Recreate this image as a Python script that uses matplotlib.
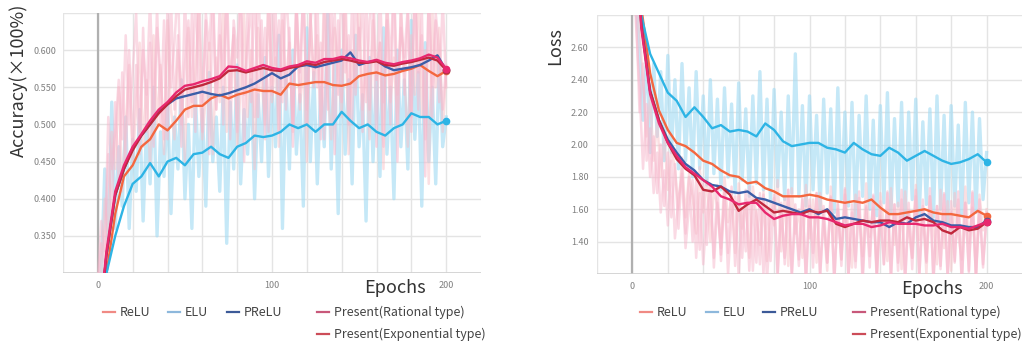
#!/usr/bin/env python3
"""Accuracy and loss curves of five activation functions (TensorBoard style)"""

import numpy as np
import matplotlib.pyplot as plt
from matplotlib.lines import Line2D

plt.rcParams["font.family"] = ["Noto Sans CJK JP", "DejaVu Sans"]

labels = ["ReLU", "ELU", "PReLU", "Present(Rational type)", "Present(Exponential type)"]
colors = ["#f4673f", "#2db4e5", "#3b5ea8", "#e8286e", "#c0283c"]
legend_colors = ["#f08a84", "#8db8dc", "#3c5a98", "#c8587a", "#cc4c58"]

# smoothed values, every 5 epochs (0..200)
acc_relu = [0.20, 0.30, 0.38, 0.43, 0.445, 0.47, 0.48, 0.50, 0.492, 0.505, 0.52,
            0.525, 0.525, 0.535, 0.54, 0.535, 0.54, 0.543, 0.547, 0.545, 0.545,
            0.54, 0.555, 0.553, 0.555, 0.557, 0.557, 0.553, 0.552, 0.555, 0.565,
            0.568, 0.57, 0.566, 0.568, 0.572, 0.575, 0.58, 0.572, 0.565, 0.572]
acc_elu = [0.21, 0.30, 0.35, 0.39, 0.42, 0.43, 0.448, 0.43, 0.45, 0.455, 0.445,
           0.46, 0.462, 0.47, 0.46, 0.455, 0.47, 0.475, 0.485, 0.483, 0.485,
           0.49, 0.50, 0.495, 0.50, 0.49, 0.50, 0.50, 0.517, 0.505, 0.495,
           0.50, 0.49, 0.485, 0.495, 0.50, 0.515, 0.51, 0.51, 0.50, 0.505]
acc_prelu = [0.21, 0.325, 0.405, 0.44, 0.468, 0.485, 0.50, 0.517, 0.527, 0.535, 0.538,
             0.541, 0.544, 0.541, 0.539, 0.542, 0.546, 0.55, 0.555, 0.562, 0.569,
             0.562, 0.567, 0.578, 0.58, 0.577, 0.58, 0.583, 0.586, 0.597, 0.58,
             0.584, 0.586, 0.578, 0.573, 0.575, 0.577, 0.58, 0.586, 0.593, 0.573]
acc_rational = [0.22, 0.33, 0.41, 0.445, 0.47, 0.487, 0.505, 0.52, 0.53, 0.543, 0.552,
                0.554, 0.558, 0.561, 0.565, 0.578, 0.577, 0.572, 0.576, 0.58, 0.576,
                0.574, 0.578, 0.58, 0.585, 0.583, 0.588, 0.588, 0.591, 0.589, 0.586,
                0.584, 0.587, 0.583, 0.581, 0.584, 0.586, 0.589, 0.594, 0.59, 0.575]
acc_exponential = [0.22, 0.325, 0.405, 0.44, 0.465, 0.485, 0.50, 0.515, 0.527, 0.538, 0.547,
                   0.55, 0.553, 0.557, 0.562, 0.572, 0.573, 0.57, 0.573, 0.576, 0.573,
                   0.572, 0.576, 0.578, 0.582, 0.58, 0.584, 0.586, 0.588, 0.586, 0.583,
                   0.583, 0.585, 0.58, 0.579, 0.582, 0.584, 0.587, 0.59, 0.586, 0.573]

loss_relu = [3.60, 2.85, 2.44, 2.21, 2.09, 2.01, 1.99, 1.95, 1.90, 1.88, 1.84,
             1.81, 1.80, 1.76, 1.77, 1.73, 1.71, 1.68, 1.68, 1.68, 1.69,
             1.68, 1.66, 1.65, 1.64, 1.65, 1.64, 1.66, 1.61, 1.57, 1.57,
             1.58, 1.59, 1.60, 1.58, 1.57, 1.57, 1.56, 1.55, 1.59, 1.56]
loss_elu = [3.60, 2.80, 2.56, 2.44, 2.32, 2.27, 2.17, 2.23, 2.17, 2.10, 2.12,
            2.08, 2.09, 2.08, 2.05, 2.13, 2.09, 2.02, 1.99, 2.00, 2.01,
            2.01, 1.98, 1.97, 1.95, 2.01, 1.97, 1.94, 1.93, 1.98, 1.95,
            1.90, 1.93, 1.96, 1.93, 1.90, 1.88, 1.89, 1.91, 1.94, 1.89]
loss_prelu = [3.60, 2.75, 2.33, 2.15, 2.03, 1.95, 1.88, 1.84, 1.78, 1.75, 1.74,
              1.71, 1.70, 1.71, 1.67, 1.66, 1.64, 1.62, 1.60, 1.58, 1.60,
              1.57, 1.60, 1.54, 1.55, 1.54, 1.53, 1.52, 1.52, 1.49, 1.52,
              1.51, 1.55, 1.57, 1.53, 1.52, 1.50, 1.50, 1.49, 1.49, 1.53]
loss_rational = [3.60, 2.72, 2.31, 2.13, 2.01, 1.93, 1.86, 1.82, 1.78, 1.74, 1.68,
                 1.66, 1.63, 1.64, 1.64, 1.58, 1.54, 1.56, 1.57, 1.57, 1.55,
                 1.55, 1.54, 1.52, 1.50, 1.51, 1.51, 1.49, 1.50, 1.52, 1.51,
                 1.51, 1.51, 1.50, 1.50, 1.51, 1.49, 1.49, 1.48, 1.50, 1.52]
loss_exponential = [3.60, 2.74, 2.33, 2.15, 2.01, 1.91, 1.85, 1.81, 1.72, 1.71, 1.74,
                    1.69, 1.59, 1.63, 1.66, 1.62, 1.58, 1.59, 1.58, 1.57, 1.59,
                    1.58, 1.59, 1.51, 1.49, 1.51, 1.53, 1.52, 1.53, 1.53, 1.52,
                    1.55, 1.53, 1.54, 1.52, 1.47, 1.45, 1.49, 1.47, 1.48, 1.52]

# raw (unsmoothed) values, every 2 epochs (0..200)
acc_raw_rational = [
    0.28, 0.34, 0.31, 0.46, 0.38, 0.53, 0.42, 0.57, 0.45, 0.60, 0.47, 0.58, 0.46, 0.63,
    0.49, 0.61, 0.47, 0.66, 0.50, 0.64, 0.48, 0.67, 0.52, 0.62, 0.47, 0.68, 0.51, 0.65,
    0.49, 0.69, 0.53, 0.64, 0.46, 0.67, 0.52, 0.66, 0.50, 0.69, 0.54, 0.63, 0.49, 0.68,
    0.45, 0.66, 0.53, 0.70, 0.51, 0.64, 0.48, 0.68, 0.54, 0.66, 0.49, 0.69, 0.52, 0.63,
    0.47, 0.67, 0.53, 0.70, 0.50, 0.65, 0.55, 0.68, 0.48, 0.66, 0.52, 0.69, 0.46, 0.64,
    0.53, 0.70, 0.50, 0.67, 0.54, 0.63, 0.49, 0.68, 0.52, 0.66, 0.47, 0.69, 0.53, 0.64,
    0.50, 0.70, 0.45, 0.67, 0.54, 0.65, 0.49, 0.69, 0.52, 0.66, 0.43, 0.68, 0.51, 0.64,
    0.53, 0.67, 0.55]
acc_raw_exponential = [
    0.29, 0.37, 0.33, 0.51, 0.44, 0.49, 0.56, 0.48, 0.62, 0.50, 0.57, 0.65, 0.49, 0.60,
    0.54, 0.67, 0.51, 0.63, 0.57, 0.48, 0.66, 0.55, 0.61, 0.69, 0.50, 0.58, 0.64, 0.53,
    0.68, 0.56, 0.49, 0.65, 0.60, 0.70, 0.52, 0.62, 0.57, 0.67, 0.48, 0.64, 0.59, 0.69,
    0.54, 0.61, 0.66, 0.51, 0.70, 0.56, 0.63, 0.49, 0.67, 0.58, 0.64, 0.53, 0.69, 0.60,
    0.50, 0.66, 0.57, 0.68, 0.52, 0.63, 0.70, 0.55, 0.61, 0.48, 0.67, 0.59, 0.65, 0.54,
    0.70, 0.57, 0.62, 0.50, 0.68, 0.60, 0.66, 0.53, 0.64, 0.69, 0.56, 0.61, 0.47, 0.67,
    0.58, 0.70, 0.54, 0.63, 0.59, 0.66, 0.51, 0.69, 0.57, 0.62, 0.48, 0.68, 0.55, 0.65,
    0.60, 0.52, 0.58]
acc_raw_relu = [
    0.27, 0.30, 0.40, 0.35, 0.49, 0.44, 0.55, 0.41, 0.50, 0.58, 0.45, 0.52, 0.61, 0.47,
    0.56, 0.44, 0.62, 0.50, 0.58, 0.46, 0.64, 0.52, 0.48, 0.60, 0.55, 0.45, 0.63, 0.51,
    0.57, 0.66, 0.48, 0.54, 0.61, 0.46, 0.59, 0.53, 0.67, 0.49, 0.57, 0.62, 0.47, 0.55,
    0.65, 0.51, 0.60, 0.44, 0.63, 0.56, 0.50, 0.68, 0.53, 0.59, 0.47, 0.64, 0.55, 0.61,
    0.49, 0.67, 0.52, 0.58, 0.45, 0.65, 0.56, 0.62, 0.50, 0.69, 0.54, 0.48, 0.63, 0.57,
    0.51, 0.66, 0.46, 0.60, 0.55, 0.68, 0.52, 0.58, 0.48, 0.64, 0.56, 0.61, 0.44, 0.67,
    0.53, 0.59, 0.50, 0.65, 0.57, 0.47, 0.62, 0.54, 0.69, 0.51, 0.60, 0.42, 0.66, 0.55,
    0.63, 0.49, 0.57]
acc_raw_elu = [
    0.28, 0.30, 0.44, 0.33, 0.53, 0.36, 0.47, 0.39, 0.51, 0.36, 0.48, 0.41, 0.52, 0.37,
    0.50, 0.42, 0.55, 0.35, 0.49, 0.43, 0.53, 0.38, 0.51, 0.44, 0.56, 0.40, 0.50, 0.36,
    0.54, 0.43, 0.52, 0.39, 0.57, 0.45, 0.51, 0.41, 0.55, 0.34, 0.53, 0.44, 0.58, 0.42,
    0.52, 0.46, 0.56, 0.40, 0.54, 0.45, 0.59, 0.43, 0.55, 0.47, 0.62, 0.36, 0.56, 0.44,
    0.60, 0.46, 0.54, 0.39, 0.63, 0.45, 0.57, 0.42, 0.55, 0.47, 0.65, 0.44, 0.58, 0.38,
    0.60, 0.46, 0.56, 0.42, 0.62, 0.47, 0.54, 0.37, 0.59, 0.45, 0.57, 0.43, 0.63, 0.46,
    0.55, 0.40, 0.60, 0.47, 0.56, 0.44, 0.64, 0.48, 0.57, 0.39, 0.61, 0.45, 0.55, 0.42,
    0.59, 0.47, 0.51]
loss_raw_rational = [
    3.20, 2.75, 2.35, 1.85, 2.25, 1.80, 2.05, 1.70, 2.00, 1.62, 1.95, 1.55, 1.88, 1.48,
    1.85, 1.45, 1.80, 1.40, 1.78, 1.35, 1.76, 1.38, 1.72, 1.30, 1.75, 1.28, 1.70, 1.33,
    1.74, 1.25, 1.68, 1.30, 1.72, 1.22, 1.66, 1.27, 1.70, 1.20, 1.65, 1.28, 1.69, 1.18,
    1.64, 1.26, 1.72, 1.21, 1.63, 1.29, 1.68, 1.17, 1.66, 1.24, 1.70, 1.19, 1.62, 1.27,
    1.67, 1.16, 1.64, 1.25, 1.69, 1.18, 1.63, 1.28, 1.71, 1.20, 1.62, 1.24, 1.68, 1.15,
    1.65, 1.26, 1.70, 1.19, 1.63, 1.27, 1.72, 1.17, 1.64, 1.23, 1.68, 1.18, 1.66, 1.28,
    1.73, 1.16, 1.62, 1.25, 1.69, 1.19, 1.65, 1.27, 1.71, 1.15, 1.64, 1.22, 1.70, 1.18,
    1.66, 1.24, 1.58]
loss_raw_exponential = [
    3.30, 2.85, 2.20, 2.50, 1.90, 2.10, 1.70, 1.95, 1.58, 1.84, 1.50, 1.90, 1.42, 1.66,
    1.82, 1.36, 1.62, 1.78, 1.30, 1.70, 1.26, 1.58, 1.76, 1.24, 1.64, 1.32, 1.72, 1.20,
    1.56, 1.68, 1.18, 1.61, 1.34, 1.74, 1.22, 1.59, 1.26, 1.69, 1.16, 1.54, 1.67, 1.21,
    1.60, 1.30, 1.72, 1.17, 1.57, 1.25, 1.66, 1.14, 1.62, 1.33, 1.70, 1.19, 1.55, 1.27,
    1.68, 1.15, 1.60, 1.29, 1.73, 1.18, 1.58, 1.24, 1.67, 1.13, 1.61, 1.31, 1.69, 1.20,
    1.56, 1.26, 1.71, 1.16, 1.63, 1.22, 1.66, 1.14, 1.59, 1.30, 1.72, 1.19, 1.57, 1.27,
    1.68, 1.15, 1.62, 1.23, 1.70, 1.17, 1.58, 1.28, 1.66, 1.13, 1.64, 1.21, 1.71, 1.18,
    1.60, 1.26, 1.55]
loss_raw_relu = [
    3.40, 3.00, 2.70, 2.40, 2.05, 2.30, 1.90, 2.15, 1.80, 2.05, 1.72, 1.98, 1.85, 1.60,
    1.92, 1.55, 1.82, 1.68, 1.45, 1.86, 1.58, 1.78, 1.40, 1.72, 1.62, 1.36, 1.80, 1.52,
    1.70, 1.33, 1.76, 1.48, 1.66, 1.30, 1.74, 1.55, 1.38, 1.71, 1.28, 1.64, 1.50, 1.78,
    1.34, 1.68, 1.25, 1.73, 1.45, 1.60, 1.30, 1.75, 1.42, 1.66, 1.27, 1.70, 1.52, 1.22,
    1.74, 1.40, 1.63, 1.29, 1.72, 1.47, 1.24, 1.69, 1.55, 1.31, 1.76, 1.43, 1.61, 1.21,
    1.70, 1.50, 1.28, 1.73, 1.38, 1.64, 1.23, 1.71, 1.46, 1.30, 1.75, 1.41, 1.62, 1.20,
    1.68, 1.49, 1.26, 1.72, 1.36, 1.65, 1.22, 1.70, 1.44, 1.29, 1.74, 1.39, 1.61, 1.19,
    1.69, 1.47, 1.60]
loss_raw_elu = [
    3.30, 2.90, 2.60, 2.15, 2.55, 1.95, 2.50, 2.05, 2.45, 1.90, 2.55, 1.95, 2.40, 1.85,
    2.50, 1.90, 2.35, 1.80, 2.45, 1.85, 2.30, 1.75, 2.40, 1.82, 2.28, 1.72, 2.35, 1.80,
    2.25, 1.70, 2.38, 1.78, 2.22, 1.68, 2.30, 1.76, 2.45, 1.72, 2.28, 1.65, 2.34, 1.74,
    2.20, 1.66, 2.30, 1.70, 2.56, 1.68, 2.24, 1.62, 2.30, 1.72, 2.18, 1.60, 2.28, 1.70,
    2.22, 1.58, 2.35, 1.66, 2.20, 1.62, 2.26, 1.55, 2.18, 1.68, 2.30, 1.60, 2.15, 1.56,
    2.24, 1.64, 2.32, 1.58, 2.16, 1.62, 2.26, 1.54, 2.20, 1.66, 2.28, 1.57, 2.14, 1.63,
    2.22, 1.55, 2.30, 1.60, 2.18, 1.52, 2.24, 1.62, 2.12, 1.56, 2.26, 1.64, 2.20, 1.58,
    2.16, 1.66, 1.95]

# plotting order: ReLU, ELU, PReLU, Exponential, Rational (Rational on top)
acc_smooth = [acc_relu, acc_elu, acc_prelu, acc_exponential, acc_rational]
loss_smooth = [loss_relu, loss_elu, loss_prelu, loss_exponential, loss_rational]
acc_raw = [acc_raw_elu, acc_raw_relu, acc_raw_exponential, acc_raw_rational]
loss_raw = [loss_raw_elu, loss_raw_relu, loss_raw_exponential, loss_raw_rational]
raw_colors = ["#a6dcf3", "#f8c0c6", "#f6b6cb", "#f7b9cd"]
raw_alpha = [0.65, 0.5, 0.5, 0.55]
raw_width = [2.4, 1.8, 1.8, 1.8]

fig = plt.figure(figsize=(10.25, 3.45), dpi=100)
ax1 = fig.add_axes([63 / 1025, 1 - 273 / 345, 418 / 1025, 260 / 345])
ax2 = fig.add_axes([597 / 1025, 1 - 274 / 345, 425 / 1025, 259 / 345])


def style(ax, ylim, yticks, fmt, ypad):
    ax.set_xlim(-20, 220)
    ax.set_ylim(*ylim)
    xt = np.arange(-20, 201, 20)
    ax.set_xticks(xt)
    ax.set_xticklabels([str(v) if v in (0, 100, 200) else "" for v in xt])
    ax.set_yticks(yticks)
    ax.set_yticklabels([""] + [fmt.format(v) for v in yticks[1:-1]] + [""])
    ax.grid(color="#e4e4e4", lw=1)
    ax.set_axisbelow(True)
    for s in ax.spines.values():
        s.set_visible(False)
    ax.tick_params(length=0, labelsize=6.5, labelcolor="#808080")
    ax.tick_params(axis="x", pad=6)
    ax.tick_params(axis="y", pad=ypad)
    ax.axvline(0, color="#b0b0b0", lw=1.6, zorder=1)
    ax.axhline(ylim[0], color="#d0d0d0", lw=1.2, zorder=1)


def draw(ax, raws, smooth):
    for y, c, a, w in zip(raws, raw_colors, raw_alpha, raw_width):
        x = np.linspace(0, 200, len(y))
        ax.plot(x, y, color=c, lw=w, alpha=a, zorder=2)
    for k, y in enumerate(smooth):
        i = [0, 1, 2, 4, 3][k]
        x = np.linspace(0, 200, len(y))
        ax.plot(x, y, color=colors[i], lw=1.7, zorder=3 + k)
        ax.plot(x[-1], y[-1], "o", color=colors[i], ms=4.5, zorder=3 + k)


draw(ax1, acc_raw, acc_smooth)
draw(ax2, loss_raw, loss_smooth)
style(ax1, (0.30, 0.65), np.round(np.arange(0.30, 0.651, 0.05), 2), "{:.3f}", 5)
style(ax2, (1.20, 2.80), np.round(np.arange(1.20, 2.801, 0.20), 2), "{:.2f}", 6)

# overlay in pixel coordinates for labels and legends
ov = fig.add_axes([0, 0, 1, 1])
ov.set_xlim(0, 1025)
ov.set_ylim(345, 0)
ov.axis("off")

ov.text(19, 80, "Accuracy(×100%)", rotation=90, ha="center", va="center",
        fontsize=13, color="#333333")
ov.text(555, 46, "Loss", rotation=90, ha="center", va="center",
        fontsize=13, color="#333333")
ov.text(395, 288, "Epochs", ha="center", va="center", fontsize=13, color="#333333")
ov.text(932, 289, "Epochs", ha="center", va="center", fontsize=13, color="#333333")

legend_slots = [
    [(103, 312), (168, 312), (227, 312), (317, 312), (317, 334)],
    [(640, 312), (706, 312), (763, 312), (853, 312), (853, 334)],
]
for slots in legend_slots:
    for (x0, y0), lab, c in zip(slots, labels, legend_colors):
        ov.add_line(Line2D([x0, x0 + 12], [y0, y0], color=c, lw=1.6))
        ov.text(x0 + 17, y0, lab, ha="left", va="center", fontsize=9, color="#444444")

fig.savefig("out.png", dpi=100)
